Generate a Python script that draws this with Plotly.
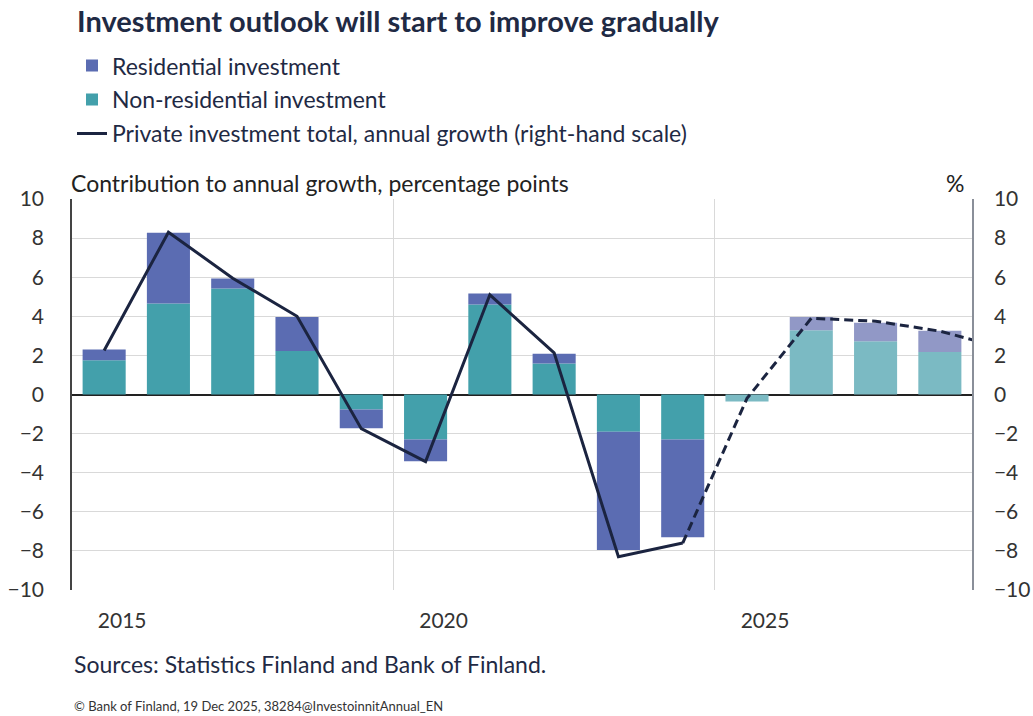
import plotly.graph_objects as go

years = list(range(2015, 2029))
non_residential = [1.75, 4.65, 5.42, 2.22, -0.77, -2.3, 4.6, 1.59, -1.91, -2.3, -0.36, 3.29, 2.73, 2.18]
residential = [0.55, 3.62, 0.51, 1.75, -0.95, -1.11, 0.57, 0.49, -6.05, -5.0, 0.0, 0.67, 0.94, 1.08]
growth_years = list(range(2015, 2030))
total_growth = [2.25, 8.3, 5.95, 4.0, -1.75, -3.43, 5.1, 2.13, -8.3, -7.6, -0.2, 3.9, 3.75, 3.24, 2.36]
forecast_start = 2025
tick_years = [2015, 2020, 2025]

FONT = "Lato"
TXT = "#1f2a44"
res_col = ["#5b6cb2" if y < forecast_start else "#9198c6" for y in years]
non_col = ["#43a0ab" if y < forecast_start else "#7bbac3" for y in years]
LINE = "#1b2440"

fig = go.Figure()
fig.add_trace(go.Bar(x=years, y=non_residential, name="Non-residential investment",
                     marker=dict(color=non_col, line=dict(width=0)), width=0.67,
                     legendrank=2, legendgroup="b"))
fig.add_trace(go.Bar(x=years, y=residential, name="Residential investment",
                     marker=dict(color=res_col, line=dict(width=0)), width=0.67,
                     legendrank=1, legendgroup="a"))

hist_x = [y for y in growth_years if y < forecast_start]
hist_y = [v for y, v in zip(growth_years, total_growth) if y < forecast_start]
fc_x = [y for y in growth_years if y >= forecast_start - 1]
fc_y = [v for y, v in zip(growth_years, total_growth) if y >= forecast_start - 1]
fig.add_trace(go.Scatter(x=hist_x, y=hist_y, mode="lines", yaxis="y2",
                         name="Private investment total, annual growth (right-hand scale)",
                         line=dict(color=LINE, width=3), legendrank=3, legendgroup="c"))
fig.add_trace(go.Scatter(x=fc_x, y=fc_y, mode="lines", yaxis="y2", showlegend=False,
                         legendgroup="c",
                         line=dict(color=LINE, width=3, dash="9px,5px")))

yticks = list(range(-10, 11, 2))
yticktext = [str(v).replace("-", "\u2212") for v in yticks]

fig.update_layout(
    width=1033, height=716,
    margin=dict(l=72, r=61, t=199, b=126, autoexpand=False),
    paper_bgcolor="white", plot_bgcolor="white",
    font=dict(family=FONT, color=TXT, size=21),
    barmode="relative",
    showlegend=True,
    legend=dict(x=0.0, xanchor="left", y=1.396, yanchor="top", orientation="v",
                font=dict(size=23, color=TXT), itemwidth=30, tracegroupgap=1,
                bgcolor="rgba(0,0,0,0)"),
    xaxis=dict(range=[2014.5, 2028.5], tickmode="array", automargin=False,
               tickvals=[y + 0.28 for y in tick_years], ticktext=[str(y) for y in tick_years],
               showgrid=False, zeroline=False, showline=False, ticks="",
               ticklabelstandoff=16, tickfont=dict(size=21, color="#333"),
               minor=dict(tickmode="array", tickvals=[2019.5, 2024.5], showgrid=True,
                          gridcolor="#d9d9d9", gridwidth=1, ticks="")),
    yaxis=dict(range=[-10, 10], tickvals=yticks, ticktext=yticktext, automargin=False,
               showgrid=True, gridcolor="#d9d9d9", gridwidth=1,
               zeroline=True, zerolinecolor="#222", zerolinewidth=1.5,
               showline=True, linecolor="#444", linewidth=1.5,
               ticks="", ticklabelstandoff=22, tickfont=dict(size=21, color="#333")),
    yaxis2=dict(range=[-10, 10], tickvals=yticks, ticktext=yticktext, overlaying="y",
                side="right", showgrid=False, zeroline=False, automargin=False,
                showline=True, linecolor="#8a8f99", linewidth=1.5,
                ticks="", ticklabelstandoff=16, tickfont=dict(size=21, color="#333")),
    title=dict(text="<b>Investment outlook will start to improve gradually</b>",
               x=77/1033, xanchor="left", xref="container",
               y=1 - 22/716, yanchor="middle", yref="container",
               font=dict(size=29, color=TXT, family=FONT)),
)

fig.add_annotation(text="Contribution to annual growth, percentage points",
                   xref="paper", yref="paper", x=0, y=1.0, xanchor="left", yanchor="bottom",
                   yshift=0, xshift=-3, showarrow=False, font=dict(size=23, color="#222"))
fig.add_annotation(text="%", xref="paper", yref="paper", x=1, y=1.0, xanchor="right",
                   yanchor="bottom", yshift=0, xshift=-6, showarrow=False,
                   font=dict(size=23, color="#222"))
fig.add_annotation(text="Sources: Statistics Finland and Bank of Finland.",
                   xref="paper", yref="paper", x=0, y=-0.19, xanchor="left", yanchor="middle",
                   xshift=0, showarrow=False, font=dict(size=23, color=TXT))
fig.add_annotation(text="\u00a9 Bank of Finland, 19 Dec 2025, 38284@InvestoinnitAnnual_EN",
                   xref="paper", yref="paper", x=0, y=-0.297, xanchor="left", yanchor="middle",
                   xshift=0, showarrow=False, font=dict(size=13, color="#333"))

fig.write_html("out.html", config={"displayModeBar": False},
               post_script="document.body.style.margin='0';document.body.style.overflow='hidden';")
